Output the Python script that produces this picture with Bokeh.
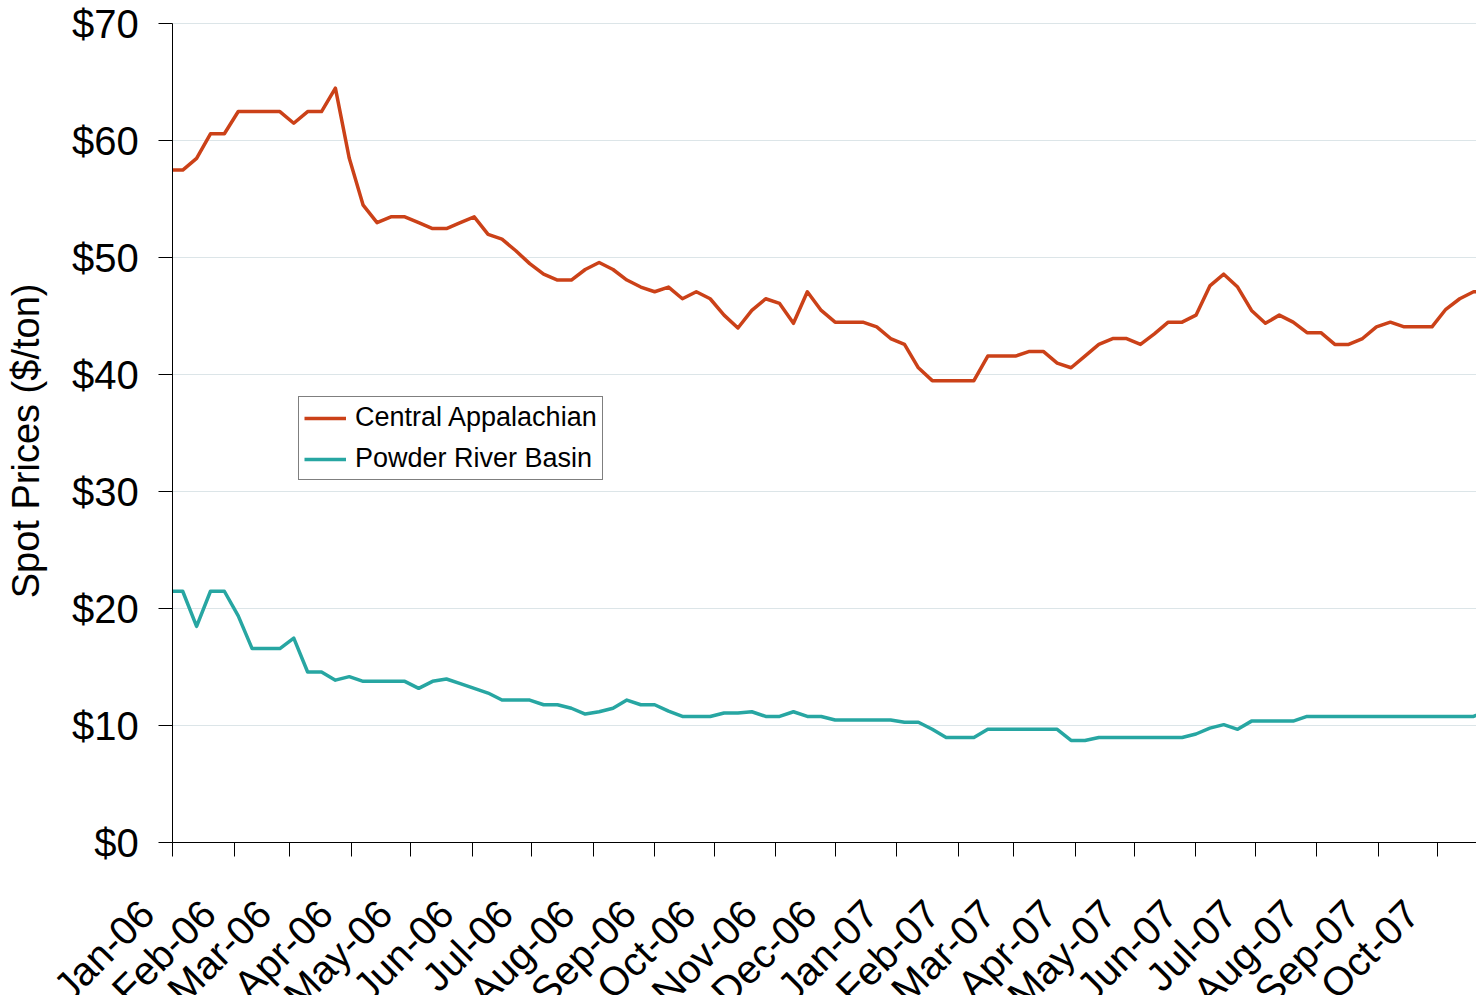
import numpy as np
import pandas as pd
from bokeh.plotting import figure
from bokeh.models import Range1d, FixedTicker, NumeralTickFormatter, LinearAxis, Label
from bokeh.embed import file_html
from bokeh.resources import INLINE

# ---------------- data (weekly spot prices, $/ton) ----------------
series_start = "2006-01-01"      # first reading, at the left edge of the chart
first_week = "2006-01-06"        # weekly readings after that
central_appalachian = [
    57.5, 57.5, 58.5, 60.6, 60.6, 62.5, 62.5, 62.5, 62.5, 61.5, 62.5, 62.5,
    64.5, 58.5, 54.5, 53.0, 53.5, 53.5, 53.0, 52.5, 52.5, 53.0, 53.5, 52.0,
    51.6, 50.6, 49.5, 48.6, 48.1, 48.1, 49.0, 49.6, 49.0, 48.1, 47.5, 47.1,
    47.5, 46.5, 47.1, 46.5, 45.1, 44.0, 45.5, 46.5, 46.1, 44.4, 47.1, 45.5,
    44.5, 44.5, 44.5, 44.1, 43.1, 42.6, 40.6, 39.5, 39.5, 39.5, 39.5, 41.6,
    41.6, 41.6, 42.0, 42.0, 41.0, 40.6, 41.6, 42.6, 43.1, 43.1, 42.6, 43.5,
    44.5, 44.5, 45.1, 47.6, 48.6, 47.5, 45.5, 44.4, 45.1, 44.5, 43.6, 43.6,
    42.6, 42.6, 43.1, 44.1, 44.5, 44.1, 44.1, 44.1, 45.6, 46.5, 47.1, 47.1,
]
powder_river_basin = [
    21.5, 21.5, 18.5, 21.5, 21.5, 19.4, 16.6, 16.6, 16.6, 17.5, 14.6, 14.6,
    13.9, 14.2, 13.8, 13.8, 13.8, 13.8, 13.2, 13.8, 14.0, 13.6, 13.2, 12.8,
    12.2, 12.2, 12.2, 11.8, 11.8, 11.5, 11.0, 11.2, 11.5, 12.2, 11.8, 11.8,
    11.25, 10.8, 10.8, 10.8, 11.1, 11.1, 11.2, 10.8, 10.8, 11.2, 10.8, 10.8,
    10.5, 10.5, 10.5, 10.5, 10.5, 10.3, 10.3, 9.7, 9.0, 9.0, 9.0, 9.7,
    9.7, 9.7, 9.7, 9.7, 9.7, 8.75, 8.75, 9.0, 9.0, 9.0, 9.0, 9.0,
    9.0, 9.0, 9.3, 9.8, 10.1, 9.7, 10.4, 10.4, 10.4, 10.4, 10.8, 10.8,
    10.8, 10.8, 10.8, 10.8, 10.8, 10.8, 10.8, 10.8, 10.8, 10.8, 10.8, 11.3,
]
series_names = ["Central Appalachian", "Powder River Basin"]
month_labels = ["Jan-06", "Feb-06", "Mar-06", "Apr-06", "May-06", "Jun-06",
                "Jul-06", "Aug-06", "Sep-06", "Oct-06", "Nov-06", "Dec-06",
                "Jan-07", "Feb-07", "Mar-07", "Apr-07", "May-07", "Jun-07",
                "Jul-07", "Aug-07", "Sep-07", "Oct-07"]
y_ticks = [0, 10, 20, 30, 40, 50, 60, 70]
y_title = "Spot Prices  ($/ton)"

# ---------------- derived positions (days since 1 Jan 2006) ----------------
base = pd.Timestamp("2006-01-01")
dates = [pd.Timestamp(series_start)] + list(
    pd.date_range(first_week, periods=len(central_appalachian) - 1, freq="7D"))
x_days = [float((d - base).days) for d in dates]
month_starts = pd.date_range("2006-01-01", periods=len(month_labels), freq="MS")
month_x = [int((d - base).days) for d in month_starts]
LABEL_SHIFT_DAYS = 13          # labels sit a little left of their tick marks
label_x = [m - LABEL_SHIFT_DAYS for m in month_x]

# ---------------- layout (pixels) ----------------
W, H = 1476, 995
PX_PER_DAY = 1.98292
PX_PER_DOLLAR = 11.7
AXIS_X_PX = 172.3              # where 1 Jan 2006 sits
ZERO_Y_PX = 842.3              # where $0 sits
x_start = -AXIS_X_PX / PX_PER_DAY
x_end = (W - AXIS_X_PX) / PX_PER_DAY
y_top = (ZERO_Y_PX) / PX_PER_DOLLAR
y_bottom = -(H - ZERO_Y_PX) / PX_PER_DOLLAR

ORANGE = "#CB4118"
TEAL = "#27A6A2"
FONT = "Liberation Sans"

p = figure(width=W, height=H, output_backend="svg", toolbar_location=None,
           x_range=Range1d(x_start, x_end), y_range=Range1d(y_bottom, y_top),
           min_border_left=0, min_border_right=0,
           min_border_top=0, min_border_bottom=0)
p.outline_line_color = None
p.background_fill_color = "white"
p.border_fill_color = "white"

p.line(x_days, central_appalachian, color=ORANGE, line_width=3.5,
       line_join="round", legend_label=series_names[0])
p.line(x_days, powder_river_basin, color=TEAL, line_width=3.5,
       line_join="round", legend_label=series_names[1])

# grid (horizontal lines only, from the y axis rightwards)
p.xgrid.visible = False
yg = p.ygrid[0]
yg.ticker = FixedTicker(ticks=y_ticks)
yg.bounds = (0, 70)
yg.grid_line_color = "#DCE5E8"
yg.grid_line_width = 1
if "cross_bounds" in yg.properties():
    yg.cross_bounds = (0, x_end)
else:
    yg.visible = False
    p.segment(x0=[0] * len(y_ticks), x1=[x_end] * len(y_ticks),
              y0=y_ticks, y1=y_ticks, line_color="#DCE5E8", line_width=1,
              level="underlay")

# y axis, drawn at 1 Jan 2006
ya = p.yaxis[0]
ya.fixed_location = 0
ya.bounds = (0, 70)
ya.ticker = FixedTicker(ticks=y_ticks)
ya.formatter = NumeralTickFormatter(format="$0")
ya.major_label_text_font = FONT
ya.major_label_text_font_size = "40px"
ya.major_label_text_color = "black"
ya.major_label_standoff = 20
ya.major_tick_out = 14
ya.major_tick_in = 0
ya.minor_tick_out = 0
ya.minor_tick_in = 0
ya.axis_line_color = "black"
ya.major_tick_line_color = "black"

# y title
p.add_layout(Label(x=25, x_units="screen", y=34.8, y_units="data", text=y_title,
                   angle=np.pi / 2, text_align="center", text_baseline="middle",
                   text_font=FONT, text_font_size="38px", text_color="black"))

# x axis at $0: tick marks at month starts
xa = p.xaxis[0]
xa.fixed_location = 0
xa.bounds = (0, x_end)
xa.ticker = FixedTicker(ticks=month_x)
xa.major_label_overrides = {m: "" for m in month_x}
xa.major_label_text_font_size = "0px"
xa.major_label_standoff = 0
xa.major_tick_out = 14
xa.major_tick_in = 0
xa.minor_tick_out = 0
xa.minor_tick_in = 0
xa.axis_line_color = "black"
xa.major_tick_line_color = "black"

# month labels (rotated) on a companion axis at the same location
la = LinearAxis(fixed_location=0,
                ticker=FixedTicker(ticks=label_x),
                major_label_overrides={lx: lab for lx, lab in zip(label_x, month_labels)},
                major_label_orientation=np.pi / 4,
                major_label_standoff=64,
                major_label_text_font=FONT,
                major_label_text_font_size="40px",
                major_label_text_color="black",
                major_tick_out=0, major_tick_in=0,
                minor_tick_out=0, minor_tick_in=0,
                axis_line_color=None, major_tick_line_color=None,
                minor_tick_line_color=None)
p.add_layout(la, "below")

# legend
leg = p.legend[0]
leg.location = (298, H - 480)
leg.margin = 0
leg.padding = 5
leg.spacing = 10
leg.glyph_width = 42
leg.glyph_height = 28
leg.label_height = 28
leg.label_standoff = 9
leg.label_text_font = FONT
leg.label_text_font_size = "27px"
leg.label_text_color = "black"
leg.border_line_color = "black"
leg.border_line_width = 1
leg.background_fill_color = "white"
leg.background_fill_alpha = 1.0

open("out.html", "w").write(file_html(p, INLINE))
